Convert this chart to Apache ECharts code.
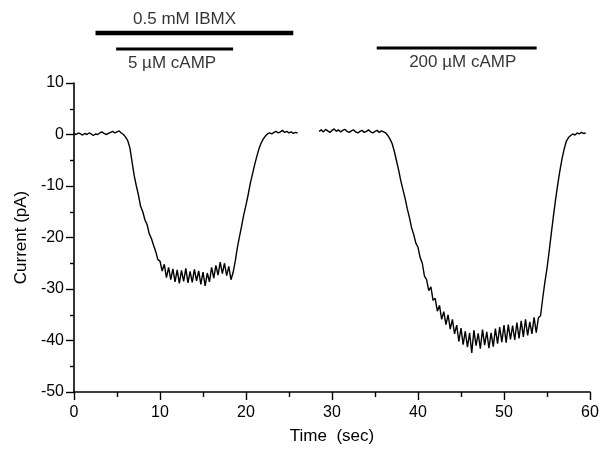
<!DOCTYPE html>
<html><head><meta charset="utf-8">
<script src="https://cdn.jsdelivr.net/npm/echarts@6/dist/echarts.min.js"></script>
<style>html,body{margin:0;padding:0;background:#fff}#c{width:604px;height:450px}</style>
</head><body><div id="c"></div>
<script>
// ---- data ----
const xTicks = [0, 10, 20, 30, 40, 50, 60];
const yTicks = [-50, -40, -30, -20, -10, 0, 10];
const trace1Start = 0, trace1Step = 0.25;
const trace1Values = [
  0.2, 0.0, 0.3, 0.1,
  -0.1, 0.2, 0.0, 0.3,
  0.1, -0.2, 0.1, 0.0,
  0.3, 0.5, 0.2, 0.0,
  0.2, 0.4, 0.6, 0.3,
  0.5, 0.7, 0.3, 0.0,
  -0.5, -1.2, -2.6, -5.3,
  -8.0, -10.0, -11.8, -14.0,
  -15.0, -16.6, -17.5, -19.3,
  -20.2, -21.5, -22.7, -24.3,
  -24.6, -26.5, -25.2, -27.8,
  -25.8, -28.2, -26.1, -28.6,
  -26.3, -28.9, -26.4, -28.5,
  -26.0, -28.8, -26.6, -28.7,
  -26.2, -28.4, -26.5, -29.1,
  -26.7, -29.4, -26.9, -28.6,
  -25.8, -27.9, -25.4, -27.3,
  -24.8, -27.0, -25.0, -27.4,
  -25.6, -28.2, -26.8, -24.6,
  -21.9, -19.8, -17.7, -15.5,
  -13.7, -11.7, -9.5, -7.7,
  -5.9, -4.3, -2.8, -1.7,
  -0.9, -0.3, 0.1, 0.3,
  0.1, 0.4, 0.6, 0.3,
  0.5, 0.8, 0.4, 0.6,
  0.3, 0.5, 0.2, 0.4,
  0.3
];
const trace2Start = 28.5, trace2Step = 0.25;
const trace2Values = [
  0.6, 0.9, 0.5, 1.0,
  0.7, 0.4, 0.8, 1.1,
  0.6, 0.9, 0.5, 0.8,
  1.0, 0.6, 0.4, 0.7,
  0.9, 0.5, 0.3, 0.6,
  0.8, 0.4, 0.6, 0.9,
  0.5, 0.3, 0.6, 0.8,
  0.4, 0.7, 0.5, 0.3,
  -0.2, -0.9, -1.8, -3.3,
  -5.1, -6.9, -9.0, -10.7,
  -12.4, -14.4, -16.1, -18.1,
  -19.4, -21.1, -21.9, -23.9,
  -25.0, -27.5, -28.2, -30.3,
  -29.6, -32.2, -31.8, -34.3,
  -33.2, -35.9, -34.4, -36.9,
  -35.0, -37.8, -35.9, -38.7,
  -37.0, -40.2, -37.6, -40.8,
  -38.2, -41.3, -38.5, -42.4,
  -38.0, -41.0, -38.6, -41.6,
  -37.9, -40.9, -38.3, -41.5,
  -38.5, -41.2, -37.7, -40.6,
  -37.4, -40.3, -37.0, -40.4,
  -36.9, -39.8, -37.1, -39.9,
  -36.5, -39.6, -36.2, -39.3,
  -35.9, -39.0, -36.4, -38.7,
  -35.5, -38.5, -35.6, -35.2,
  -31.8, -28.7, -26.0, -22.7,
  -19.2, -15.8, -12.6, -9.7,
  -7.0, -4.7, -2.8, -1.3,
  -0.6, -0.2, 0.1, -0.1,
  0.3, 0.1, 0.4, 0.2,
  0.3
];
const treatmentNames = ['0.5 mM IBMX', '5 µM cAMP', '200 µM cAMP'];
const treatmentStart = [2.5, 4.9, 35.2];
const treatmentEnd = [25.5, 18.5, 53.8];

// ---- layout/style ----
const FONT = "'Liberation Sans', Arial, Helvetica, sans-serif";
const barLevel = [37, 21, 22];
const barWidth = [4.5, 2.8, 3.2];
const textLevel = [50.5, 7, 8];
const textX = [12.85, 11.4, 45.2];

function toPairs(start, step, vals) {
  return vals.map((v, i) => [+(start + i * step).toFixed(3), v]);
}

const series = [
  { type: 'line', xAxisIndex: 0, yAxisIndex: 0, data: toPairs(trace1Start, trace1Step, trace1Values),
    showSymbol: false, symbol: 'none', lineStyle: { color: '#000', width: 1.4 }, animation: false },
  { type: 'line', xAxisIndex: 0, yAxisIndex: 0, data: toPairs(trace2Start, trace2Step, trace2Values),
    showSymbol: false, symbol: 'none', lineStyle: { color: '#000', width: 1.4 }, animation: false }
];
treatmentNames.forEach((n, i) => {
  series.push({ type: 'line', xAxisIndex: 1, yAxisIndex: 1, symbol: 'none', animation: false,
    data: [[treatmentStart[i], barLevel[i]], [treatmentEnd[i], barLevel[i]]],
    lineStyle: { color: '#000', width: barWidth[i], cap: 'butt' } });
  series.push({ type: 'scatter', xAxisIndex: 1, yAxisIndex: 1, symbolSize: 0, animation: false,
    data: [{ value: [textX[i], textLevel[i]], name: n }],
    label: { show: true, position: 'inside', formatter: '{b}', color: '#000', fontSize: 17, fontFamily: FONT } });
});

const chart = echarts.init(document.getElementById('c'), null, { renderer: 'canvas' });
chart.setOption({
  backgroundColor: '#fff',
  textStyle: { fontFamily: FONT },
  grid: [
    { left: 74, right: 14, top: 83, bottom: 57 },
    { left: 74, right: 14, top: 10, height: 60 }
  ],
  xAxis: [
    { gridIndex: 0, type: 'value', min: xTicks[0], max: xTicks[xTicks.length - 1], interval: 10,
      name: 'Time  (sec)', nameLocation: 'middle', nameGap: 36,
      nameTextStyle: { color: '#000', fontSize: 17, fontFamily: FONT },
      axisLine: { onZero: false, lineStyle: { color: '#000', width: 1.6 } },
      axisTick: { length: 8, lineStyle: { color: '#000', width: 1.4 } },
      minorTick: { show: true, splitNumber: 2, length: 5, lineStyle: { color: '#000', width: 1.4 } },
      splitLine: { show: false },
      axisLabel: { color: '#000', fontSize: 16, margin: 13, fontFamily: FONT } },
    { gridIndex: 1, type: 'value', min: 0, max: 60, show: false }
  ],
  yAxis: [
    { gridIndex: 0, type: 'value', min: yTicks[0], max: yTicks[yTicks.length - 1], interval: 10,
      name: 'Current (pA)', nameLocation: 'middle', nameGap: 44, nameRotate: 90,
      nameTextStyle: { color: '#000', fontSize: 17, fontFamily: FONT },
      axisLine: { show: true, onZero: false, lineStyle: { color: '#000', width: 1.6 } },
      axisTick: { show: true, length: 8, lineStyle: { color: '#000', width: 1.4 } },
      minorTick: { show: true, splitNumber: 2, length: 4, lineStyle: { color: '#000', width: 1.4 } },
      splitLine: { show: false },
      axisLabel: { color: '#000', fontSize: 16, margin: 10, fontFamily: FONT } },
    { gridIndex: 1, type: 'value', min: 0, max: 60, show: false }
  ],
  series: series
});
</script></body></html>
